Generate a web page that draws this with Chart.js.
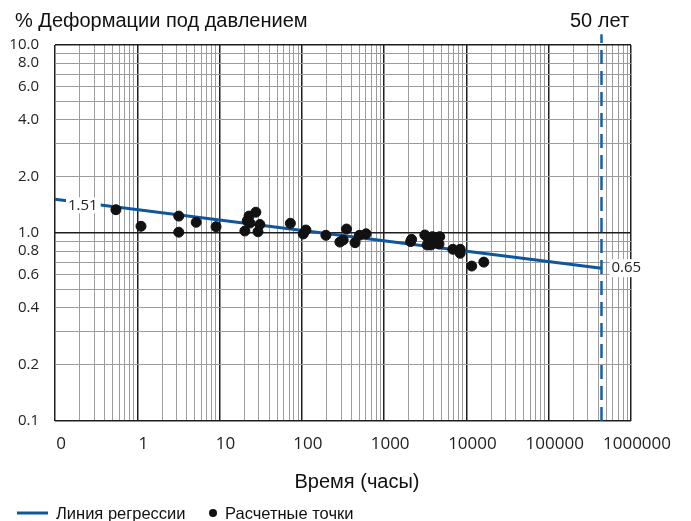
<!DOCTYPE html>
<html>
<head>
<meta charset="utf-8">
<script src="https://cdn.jsdelivr.net/npm/chart.js@4/dist/chart.umd.min.js"></script>
<style>
  body { margin: 0; background: #fff; }
  #wrap { width: 691px; height: 521px; }
</style>
</head>
<body>
<div id="wrap"><canvas id="chart" width="691" height="521"></canvas></div>
<script>
// Оси (лог-лог)
const xTicks = [0.1, 1, 10, 100, 1000, 10000, 100000, 1000000];
const xTickLabels = ['0', '1', '10', '100', '1000', '10000', '100000', '1000000'];
const yTicks = [0.1, 0.2, 0.4, 0.6, 0.8, 1, 2, 4, 6, 8, 10];
const yTickLabels = ['0.1', '0.2', '0.4', '0.6', '0.8', '1.0', '2.0', '4.0', '6.0', '8.0', '10.0'];

// Линия регрессии и 50 лет
const regressionX = [0.1, 438000];
const regressionY = [1.51, 0.65];
const fiftyYearsX = 438000;
const fiftyYearsY = [0.1, 11.4];

// Расчетные точки
const pointsX = [0.55, 1.11, 3.19, 3.19, 5.2, 9.06, 20.3, 22.8, 21.7, 27.6, 23.4, 30.9, 29.3,
  72.5, 104, 112, 196, 290, 318, 349, 443, 500, 603, 2157, 2100, 3120, 3420, 3330, 3690,
  3860, 4640, 4740, 4280, 6840, 8390, 8390, 11600, 16260];
const pointsY = [1.33, 1.086, 1.23, 1.01, 1.14, 1.08, 1.025, 1.23, 1.16, 1.29, 1.13, 1.11, 1.016,
  1.126, 0.988, 1.037, 0.972, 0.895, 0.918, 1.05, 0.888, 0.972, 0.99, 0.925, 0.90, 0.976, 0.937, 0.863, 0.863,
  0.956, 0.874, 0.956, 0.91, 0.819, 0.819, 0.78, 0.667, 0.70];

const BLUE = '#0f569c';
const FONT = '"Liberation Sans", Arial, sans-serif';
const NUMFONT = '"Open Sans", sans-serif';

// линии сетки 1..9 на каждую декаду
function logGrid(min, max) {
  const out = [];
  for (let d = min; d < max; d *= 10) {
    for (let k = 1; k < 10; k++) out.push(+(d * k).toPrecision(6));
  }
  out.push(max);
  return out;
}
const isDecade = v => Math.abs(Math.log10(v) - Math.round(Math.log10(v))) < 1e-6;

function labelFor(value, ticks, labels) {
  const i = ticks.findIndex(t => Math.abs(t - value) / t < 1e-6);
  return i >= 0 ? labels[i] : '';
}

// подписи, легенда, заголовок
const annotations = {
  id: 'annotations',
  afterDatasetsDraw(chart) {
    const ctx = chart.ctx;
    const xs = chart.scales.x, ys = chart.scales.y;
    ctx.save();
    ctx.textBaseline = 'middle';

    // 1.51
    ctx.font = '15px ' + NUMFONT;
    let t = '1.51';
    let w = ctx.measureText(t).width;
    let y0 = ys.getPixelForValue(regressionY[0]);
    ctx.fillStyle = '#fff';
    ctx.fillRect(66, y0 - 2, w + 5, 16);
    ctx.fillStyle = '#222';
    ctx.textAlign = 'left';
    ctx.fillText(t, 68, y0 + 6);

    // 0.65
    const xe = xs.getPixelForValue(regressionX[1]);
    const ye = ys.getPixelForValue(regressionY[1]);
    t = '0.65';
    w = ctx.measureText(t).width;
    ctx.fillStyle = '#fff';
    ctx.fillRect(xe + 8, ye - 9, w + 4, 18);
    ctx.fillStyle = '#222';
    ctx.fillText(t, xe + 10, ye);

    // заголовки
    ctx.font = '20px ' + FONT;
    ctx.fillStyle = '#111';
    ctx.textAlign = 'left';
    ctx.fillText('% Деформации под давлением', 15, 21);
    ctx.textAlign = 'center';
    ctx.fillText('50 лет', xs.getPixelForValue(fiftyYearsX) - 2, 21);
    ctx.fillText('Время (часы)', 357, 482);

    // легенда
    ctx.strokeStyle = BLUE;
    ctx.lineWidth = 3;
    ctx.beginPath();
    ctx.moveTo(17, 513);
    ctx.lineTo(48, 513);
    ctx.stroke();
    ctx.font = '16.5px ' + FONT;
    ctx.textAlign = 'left';
    ctx.fillStyle = '#111';
    ctx.fillText('Линия регрессии', 56, 514);
    ctx.beginPath();
    ctx.arc(213, 513, 4, 0, Math.PI * 2);
    ctx.fill();
    ctx.fillText('Расчетные точки', 225, 514);
    ctx.restore();
  }
};

const gridColor = ctx => (ctx.tick && isDecade(ctx.tick.value)) ? '#1e1e1e' : '#9c9c9c';
const gridWidth = ctx => (ctx.tick && isDecade(ctx.tick.value)) ? 1.5 : 1;

new Chart(document.getElementById('chart'), {
  type: 'scatter',
  data: {
    datasets: [
      {
        label: 'Расчетные точки',
        data: pointsX.map((x, i) => ({ x: x, y: pointsY[i] })),
        backgroundColor: '#111',
        borderColor: '#111',
        pointRadius: 5,
        order: 0
      },
      {
        label: 'Линия регрессии',
        data: regressionX.map((x, i) => ({ x: x, y: regressionY[i] })),
        showLine: true,
        borderColor: BLUE,
        borderWidth: 3,
        pointRadius: 0,
        order: 1
      },
      {
        label: '50 лет',
        data: fiftyYearsY.map(y => ({ x: fiftyYearsX, y: y })),
        showLine: true,
        borderColor: '#1560a8',
        borderWidth: 2.5,
        borderDash: [14, 7],
        pointRadius: 0,
        clip: false,
        order: 2
      }
    ]
  },
  options: {
    responsive: false,
    animation: false,
    layout: { padding: { top: 45, right: 60, left: 0, bottom: 0 } },
    plugins: {
      legend: { display: false },
      tooltip: { enabled: false }
    },
    scales: {
      x: {
        type: 'logarithmic',
        min: 0.1,
        max: 1000000,
        afterBuildTicks: s => { s.ticks = logGrid(0.1, 1000000).map(v => ({ value: v })); },
        afterFit: s => { s.height = 100; },
        grid: { color: gridColor, lineWidth: gridWidth, drawTicks: false },
        border: { display: false },
        ticks: {
          autoSkip: false,
          maxRotation: 0,
          padding: 13,
          labelOffset: 6,
          color: '#222',
          font: { family: NUMFONT, size: 17 },
          callback: v => labelFor(v, xTicks, xTickLabels)
        }
      },
      y: {
        type: 'logarithmic',
        min: 0.1,
        max: 10,
        afterBuildTicks: s => { s.ticks = logGrid(0.1, 10).map(v => ({ value: v })); },
        afterFit: s => { s.width = 55; },
        grid: { color: gridColor, lineWidth: gridWidth, drawTicks: false },
        border: { display: false },
        ticks: {
          autoSkip: false,
          padding: 16,
          color: '#222',
          font: { family: NUMFONT, size: 15 },
          callback: v => labelFor(v, yTicks, yTickLabels)
        }
      }
    }
  },
  plugins: [annotations]
});
</script>
</body>
</html>
